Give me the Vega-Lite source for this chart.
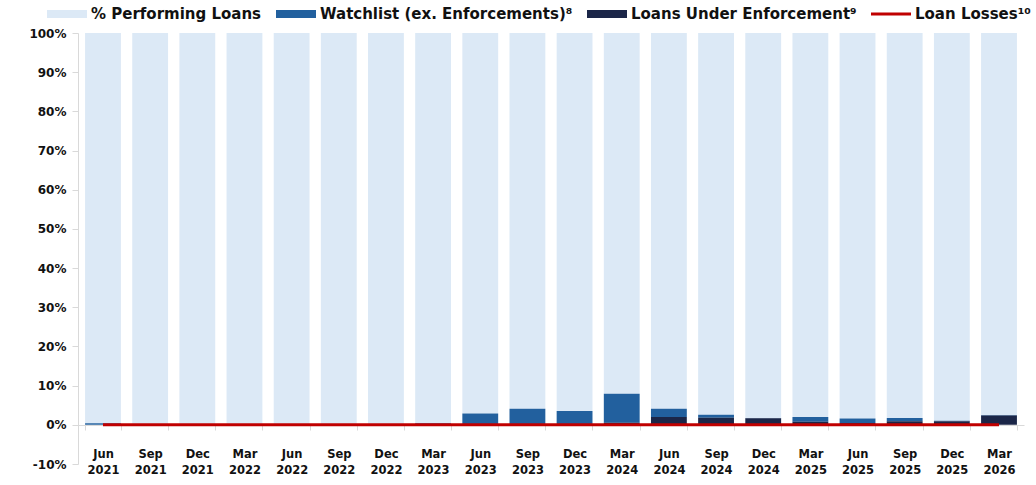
{
  "$schema": "https://vega.github.io/schema/vega-lite/v6.json",
  "width": 946,
  "height": 431,
  "autosize": {"type": "none"},
  "padding": {"left": 78, "top": 33, "right": 12, "bottom": 21},
  "background": "white",
  "config": {
    "font": "DejaVu Sans",
    "view": {"stroke": null},
    "axis": {"labelFont": "DejaVu Sans", "labelFontWeight": "bold", "labelColor": "#111111"}
  },
  "datasets": {
    "stackOrder": [
      {"series": "Loans Under Enforcement⁹", "rank": 1},
      {"series": "Watchlist (ex. Enforcements)⁸", "rank": 2},
      {"series": "% Performing Loans", "rank": 3},
      {"series": "Loan Losses¹⁰", "rank": 4}
    ]
  },
  "data": {
    "values": [
      {"period": "Jun 2021", "series": "% Performing Loans", "value": 99.6},
      {"period": "Jun 2021", "series": "Watchlist (ex. Enforcements)⁸", "value": 0.4},
      {"period": "Jun 2021", "series": "Loans Under Enforcement⁹", "value": 0},
      {"period": "Jun 2021", "series": "Loan Losses¹⁰", "value": 0},
      {"period": "Sep 2021", "series": "% Performing Loans", "value": 100},
      {"period": "Sep 2021", "series": "Watchlist (ex. Enforcements)⁸", "value": 0},
      {"period": "Sep 2021", "series": "Loans Under Enforcement⁹", "value": 0},
      {"period": "Sep 2021", "series": "Loan Losses¹⁰", "value": 0},
      {"period": "Dec 2021", "series": "% Performing Loans", "value": 100},
      {"period": "Dec 2021", "series": "Watchlist (ex. Enforcements)⁸", "value": 0},
      {"period": "Dec 2021", "series": "Loans Under Enforcement⁹", "value": 0},
      {"period": "Dec 2021", "series": "Loan Losses¹⁰", "value": 0},
      {"period": "Mar 2022", "series": "% Performing Loans", "value": 100},
      {"period": "Mar 2022", "series": "Watchlist (ex. Enforcements)⁸", "value": 0},
      {"period": "Mar 2022", "series": "Loans Under Enforcement⁹", "value": 0},
      {"period": "Mar 2022", "series": "Loan Losses¹⁰", "value": 0},
      {"period": "Jun 2022", "series": "% Performing Loans", "value": 100},
      {"period": "Jun 2022", "series": "Watchlist (ex. Enforcements)⁸", "value": 0},
      {"period": "Jun 2022", "series": "Loans Under Enforcement⁹", "value": 0},
      {"period": "Jun 2022", "series": "Loan Losses¹⁰", "value": 0},
      {"period": "Sep 2022", "series": "% Performing Loans", "value": 100},
      {"period": "Sep 2022", "series": "Watchlist (ex. Enforcements)⁸", "value": 0},
      {"period": "Sep 2022", "series": "Loans Under Enforcement⁹", "value": 0},
      {"period": "Sep 2022", "series": "Loan Losses¹⁰", "value": 0},
      {"period": "Dec 2022", "series": "% Performing Loans", "value": 100},
      {"period": "Dec 2022", "series": "Watchlist (ex. Enforcements)⁸", "value": 0},
      {"period": "Dec 2022", "series": "Loans Under Enforcement⁹", "value": 0},
      {"period": "Dec 2022", "series": "Loan Losses¹⁰", "value": 0},
      {"period": "Mar 2023", "series": "% Performing Loans", "value": 99.6},
      {"period": "Mar 2023", "series": "Watchlist (ex. Enforcements)⁸", "value": 0.4},
      {"period": "Mar 2023", "series": "Loans Under Enforcement⁹", "value": 0},
      {"period": "Mar 2023", "series": "Loan Losses¹⁰", "value": 0},
      {"period": "Jun 2023", "series": "% Performing Loans", "value": 97.1},
      {"period": "Jun 2023", "series": "Watchlist (ex. Enforcements)⁸", "value": 2.9},
      {"period": "Jun 2023", "series": "Loans Under Enforcement⁹", "value": 0},
      {"period": "Jun 2023", "series": "Loan Losses¹⁰", "value": 0},
      {"period": "Sep 2023", "series": "% Performing Loans", "value": 95.9},
      {"period": "Sep 2023", "series": "Watchlist (ex. Enforcements)⁸", "value": 4.1},
      {"period": "Sep 2023", "series": "Loans Under Enforcement⁹", "value": 0},
      {"period": "Sep 2023", "series": "Loan Losses¹⁰", "value": 0},
      {"period": "Dec 2023", "series": "% Performing Loans", "value": 96.5},
      {"period": "Dec 2023", "series": "Watchlist (ex. Enforcements)⁸", "value": 3.5},
      {"period": "Dec 2023", "series": "Loans Under Enforcement⁹", "value": 0},
      {"period": "Dec 2023", "series": "Loan Losses¹⁰", "value": 0},
      {"period": "Mar 2024", "series": "% Performing Loans", "value": 92.1},
      {"period": "Mar 2024", "series": "Watchlist (ex. Enforcements)⁸", "value": 7.4},
      {"period": "Mar 2024", "series": "Loans Under Enforcement⁹", "value": 0.5},
      {"period": "Mar 2024", "series": "Loan Losses¹⁰", "value": 0},
      {"period": "Jun 2024", "series": "% Performing Loans", "value": 95.9},
      {"period": "Jun 2024", "series": "Watchlist (ex. Enforcements)⁸", "value": 2.1},
      {"period": "Jun 2024", "series": "Loans Under Enforcement⁹", "value": 2.0},
      {"period": "Jun 2024", "series": "Loan Losses¹⁰", "value": 0},
      {"period": "Sep 2024", "series": "% Performing Loans", "value": 97.4},
      {"period": "Sep 2024", "series": "Watchlist (ex. Enforcements)⁸", "value": 0.8},
      {"period": "Sep 2024", "series": "Loans Under Enforcement⁹", "value": 1.8},
      {"period": "Sep 2024", "series": "Loan Losses¹⁰", "value": 0},
      {"period": "Dec 2024", "series": "% Performing Loans", "value": 98.25},
      {"period": "Dec 2024", "series": "Watchlist (ex. Enforcements)⁸", "value": 0.1},
      {"period": "Dec 2024", "series": "Loans Under Enforcement⁹", "value": 1.65},
      {"period": "Dec 2024", "series": "Loan Losses¹⁰", "value": 0},
      {"period": "Mar 2025", "series": "% Performing Loans", "value": 98.0},
      {"period": "Mar 2025", "series": "Watchlist (ex. Enforcements)⁸", "value": 1.2},
      {"period": "Mar 2025", "series": "Loans Under Enforcement⁹", "value": 0.8},
      {"period": "Mar 2025", "series": "Loan Losses¹⁰", "value": 0},
      {"period": "Jun 2025", "series": "% Performing Loans", "value": 98.4},
      {"period": "Jun 2025", "series": "Watchlist (ex. Enforcements)⁸", "value": 1.15},
      {"period": "Jun 2025", "series": "Loans Under Enforcement⁹", "value": 0.45},
      {"period": "Jun 2025", "series": "Loan Losses¹⁰", "value": 0},
      {"period": "Sep 2025", "series": "% Performing Loans", "value": 98.25},
      {"period": "Sep 2025", "series": "Watchlist (ex. Enforcements)⁸", "value": 0.85},
      {"period": "Sep 2025", "series": "Loans Under Enforcement⁹", "value": 0.9},
      {"period": "Sep 2025", "series": "Loan Losses¹⁰", "value": 0},
      {"period": "Dec 2025", "series": "% Performing Loans", "value": 98.95},
      {"period": "Dec 2025", "series": "Watchlist (ex. Enforcements)⁸", "value": 0.15},
      {"period": "Dec 2025", "series": "Loans Under Enforcement⁹", "value": 0.9},
      {"period": "Dec 2025", "series": "Loan Losses¹⁰", "value": 0},
      {"period": "Mar 2026", "series": "% Performing Loans", "value": 97.5},
      {"period": "Mar 2026", "series": "Watchlist (ex. Enforcements)⁸", "value": 0.15},
      {"period": "Mar 2026", "series": "Loans Under Enforcement⁹", "value": 2.35},
      {"period": "Mar 2026", "series": "Loan Losses¹⁰", "value": 0}
    ]
  },
  "transform": [
    {"lookup": "series", "from": {"data": {"name": "stackOrder"}, "key": "series", "fields": ["rank"]}}
  ],
  "encoding": {
    "x": {
      "field": "period",
      "type": "nominal",
      "sort": null,
      "scale": {"paddingInner": 0.24, "paddingOuter": 0.15},
      "axis": {
        "title": null,
        "labelAngle": 0,
        "labelExpr": "split(datum.label, ' ')",
        "labelFontSize": 11.5,
        "labelLineHeight": 16,
        "labelPadding": 18,
        "offset": -39,
        "domainColor": "#d9d9d9",
        "tickColor": "#d9d9d9",
        "tickSize": 5,
        "tickBand": "extent",
        "zindex": 0
      }
    }
  },
  "layer": [
    {
      "transform": [{"filter": "datum.series != 'Loan Losses¹⁰'"}],
      "mark": {"type": "bar"},
      "encoding": {
        "y": {
          "field": "value",
          "type": "quantitative",
          "stack": "zero",
          "scale": {"domain": [-10, 100], "nice": false},
          "axis": {
            "title": null,
            "values": [-10, 0, 10, 20, 30, 40, 50, 60, 70, 80, 90, 100],
            "labelExpr": "datum.value + '%'",
            "labelFontSize": 12,
            "labelPadding": 6,
            "labelOverlap": false,
            "labelFlush": false,
            "labelBound": false,
            "grid": false,
            "domainColor": "#d9d9d9",
            "tickColor": "#d9d9d9",
            "tickSize": 6
          }
        },
        "order": {"field": "rank", "type": "quantitative", "sort": "ascending"},
        "color": {
          "field": "series",
          "type": "nominal",
          "scale": {
            "domain": ["% Performing Loans", "Watchlist (ex. Enforcements)⁸", "Loans Under Enforcement⁹", "Loan Losses¹⁰"],
            "range": ["#dce9f6", "#22609e", "#1b2648", "#c00000"]
          },
          "legend": {
            "title": null,
            "orient": "none",
            "legendX": -31,
            "legendY": -39,
            "direction": "horizontal",
            "columns": 4,
            "columnPadding": 14,
            "labelFontSize": 15,
            "labelFontWeight": "bold",
            "labelColor": "#111111",
            "labelOffset": 4,
            "labelLimit": 400,
            "symbolSize": 1600,
            "symbolStrokeWidth": 0,
            "encode": {
              "symbols": {
                "update": {
                  "shape": {"signal": "datum.value == 'Loan Losses¹⁰' ? 'M-1,-0.08H1V0.08H-1Z' : 'M-1,-0.2H1V0.2H-1Z'"},
                  "fill": {"scale": "color", "field": "value"},
                  "strokeWidth": {"value": 0},
                  "opacity": {"value": 1}
                }
              }
            }
          }
        }
      }
    },
    {
      "transform": [{"filter": "datum.series == 'Loan Losses¹⁰'"}],
      "mark": {"type": "line", "color": "#c00000", "strokeWidth": 3},
      "encoding": {
        "y": {
          "field": "value",
          "type": "quantitative",
          "axis": {
            "title": null,
            "values": [-10, 0, 10, 20, 30, 40, 50, 60, 70, 80, 90, 100],
            "labelExpr": "datum.value + '%'",
            "labelFontSize": 12,
            "labelPadding": 6,
            "labelOverlap": false,
            "labelFlush": false,
            "labelBound": false,
            "grid": false,
            "domainColor": "#d9d9d9",
            "tickColor": "#d9d9d9",
            "tickSize": 6
          }
        }
      }
    }
  ]
}
